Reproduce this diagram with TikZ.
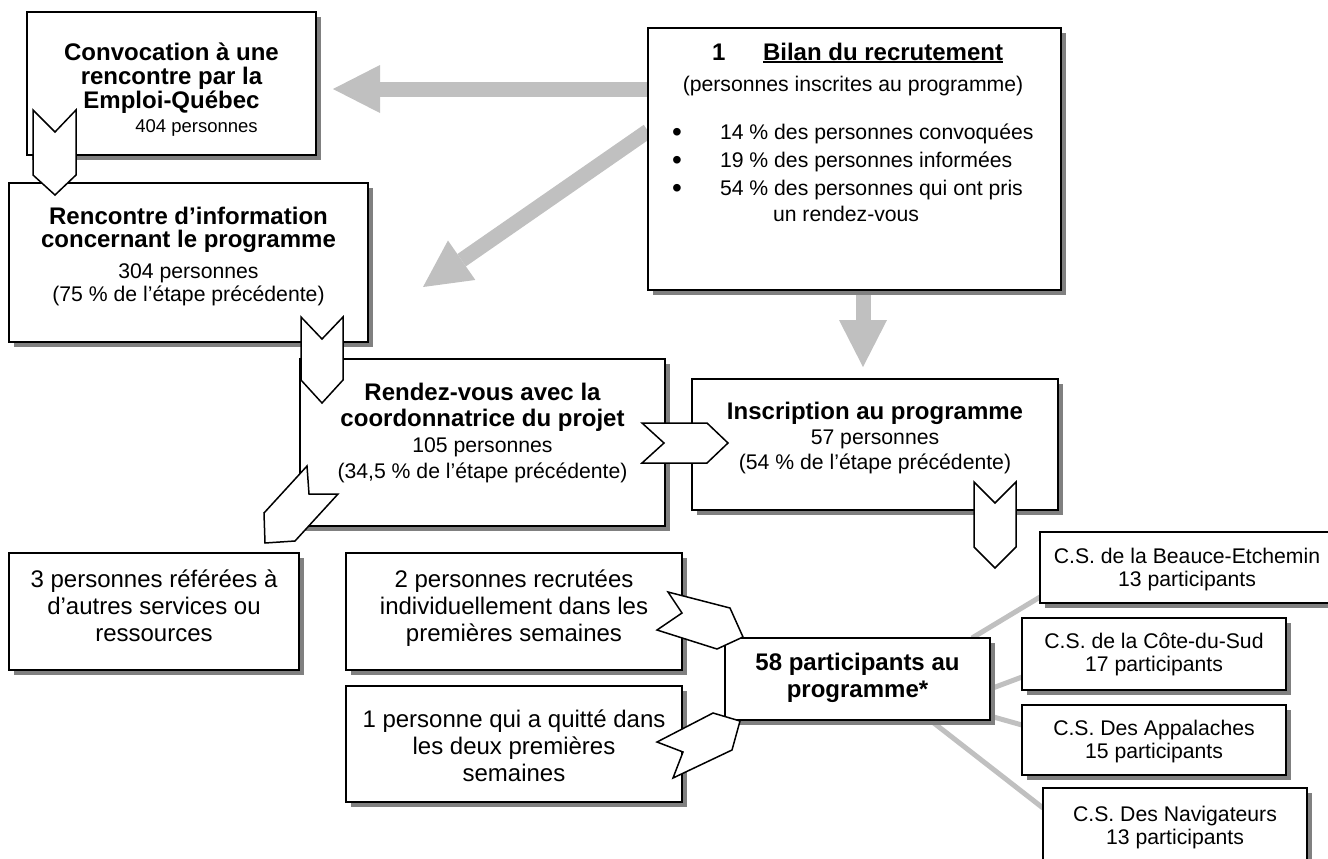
\documentclass[tikz,border=0pt]{standalone}
\usepackage{fontspec}
\setmainfont{Liberation Sans}
\usetikzlibrary{arrows.meta,shadows,calc}
\pgfdeclarelayer{back}
\pgfsetlayers{back,main}
\definecolor{arrowgray}{HTML}{C0C0C0}
\definecolor{shadowgray}{HTML}{808080}
\newcommand\clines[2]{\vtop{\baselineskip=#1\lineskiplimit=-\maxdimen\halign{\hfil##\hfil\cr#2\crcr}}}
\newcommand\myul[1]{\setbox0\hbox{#1}\rlap{\rule[-1.5pt]{\wd0}{0.9pt}}\box0}
\newcommand\zB{\fontsize{12pt}{14pt}\selectfont\bfseries}
\newcommand\zR{\fontsize{10.6pt}{12pt}\selectfont}
\newcommand\zL{\fontsize{12pt}{14pt}\selectfont}
\newcommand\zS{\fontsize{9.25pt}{12pt}\selectfont}
\newcommand\bigbul{\makebox[0pt]{\raisebox{-1.2pt}{\fontsize{14pt}{14pt}\selectfont•}}}
\tikzset{
  box/.style={draw=black, line width=0.9pt, fill=white, rectangle,
    drop shadow={shadow xshift=2.5pt, shadow yshift=-2.5pt, fill=shadowgray, opacity=1}},
  txt/.style={anchor=base},
  garrow/.style={draw=arrowgray, line width=7.5pt, -{Triangle[length=23.5pt, width=24pt, line width=0pt]}},
  csline/.style={draw=arrowgray, line width=2.5pt},
  chev/.style={draw=black, fill=white, line width=0.75pt, line join=miter}
}
\begin{document}
\begin{tikzpicture}[x=0.5pt, y=-0.5pt, every node/.style={inner sep=0pt, outer sep=0pt}]
\useasboundingbox (0,0) rectangle (1328,858);
\begin{pgfonlayer}{back}
\fill[white] (0,0) rectangle (1328,858);
\end{pgfonlayer}

% boxes
\path
  (171.5,83.5)  node[box, minimum width=144.5pt, minimum height=71.5pt] (conv) {}
  (854.5,159)   node[box, minimum width=206.5pt, minimum height=131pt] (bilan) {}
  (188.5,262.5) node[box, minimum width=179.5pt, minimum height=79.5pt] (renc) {}
  (482.5,442.5) node[box, minimum width=182.5pt, minimum height=83.5pt] (rdv) {}
  (875,444.5)   node[box, minimum width=183pt, minimum height=65.5pt] (insc) {}
  (857.5,679)   node[box, minimum width=132.5pt, minimum height=41pt] (b58) {}
  (1187,567.5)  node[box, minimum width=147pt, minimum height=35.5pt] (csA) {}
  (1154,654)    node[box, minimum width=132pt, minimum height=36pt] (csB) {}
  (1154,740)    node[box, minimum width=132pt, minimum height=35pt] (csC) {}
  (1175,827)    node[box, minimum width=132pt, minimum height=39pt] (csD) {}
  (154,611.5)   node[box, minimum width=145pt, minimum height=58.5pt] (ref) {}
  (514,611.5)   node[box, minimum width=168pt, minimum height=58.5pt] (rec) {}
  (514,744)     node[box, minimum width=168pt, minimum height=58pt] (quit) {};

% gray block arrows and lines, behind the boxes
\begin{pgfonlayer}{back}
\draw[garrow] ($(bilan.north west)+(0,61)$) -- ($(conv.east)+(17,5.5)$);
\draw[garrow] ($(bilan.north west)+(0,103)$) -- ($(renc.north east)+(55,104)$);
\draw[garrow] ($(bilan.south)+(8.5,0)$) -- ($(insc.north)+(-12,-12)$);
\draw[csline] ($(b58.north east)+(-18,0)$) -- ($(csA.west)+(0,29.5)$);
\draw[csline] ($(b58.east)+(0,10)$) -- ($(csB.west)+(0,23)$);
\draw[csline] ($(b58.east)+(0,37)$) -- ($(csC.west)+(0,-15)$);
\draw[csline] ($(b58.south east)+(-60,0)$) -- ($(csD.west)+(0,-19)$);
\end{pgfonlayer}

% chevrons
\draw[chev] (33,110) -- (55,132) -- (76,110) -- (76,175) -- (55,195) -- (33,175) -- cycle;
\draw[chev] (301,317) -- (322,339) -- (343,317) -- (343,380) -- (322,403) -- (301,380) -- cycle;
\draw[chev] (642,423) -- (664,443) -- (642,463) -- (707,463) -- (728,443) -- (707,423) -- cycle;
\draw[chev] (974,482) -- (995,503) -- (1016,482) -- (1016,547) -- (995,568) -- (974,547) -- cycle;
\draw[chev] (307,466) -- (309,494) -- (338,494) -- (295,541) -- (265,543) -- (264,513) -- cycle;
\draw[chev] (668,592) -- (682,613) -- (657,630) -- (717,649) -- (743,637) -- (730,608) -- cycle;
\draw[chev] (657,742) -- (683,752) -- (673,778) -- (732,750) -- (740,721) -- (713,713) -- cycle;

% texts
\node[txt] (convT) at (171.5,60) {\clines{12pt}{\zB Convocation à une\cr \zB rencontre par la\cr \zB Emploi-Québec\cr \zS\hskip25pt 404 personnes\cr}};
\node[txt] (rencT) at (188.5,224) {\clines{11.5pt}{\zB Rencontre d’information\cr \zB concernant le programme\cr\noalign{\vskip4pt}\zR 304 personnes\cr \zR (75 \% de l’étape précédente)\cr}};
\node[txt] (rdvT) at (482.5,400) {\clines{13pt}{\zB Rendez-vous avec la\cr \zB coordonnatrice du projet\cr \zR 105 personnes\cr \zR (34,5 \% de l’étape précédente)\cr}};
\node[txt] (inscT) at (875,419) {\clines{12.5pt}{\zB Inscription au programme\cr \zR 57 personnes\cr \zR (54 \% de l’étape précédente)\cr}};
\node[txt] (b58T) at (857.5,670) {\clines{13.5pt}{\zB 58 participants au\cr \zB programme*\cr}};
\node[txt] (refT) at (154,587) {\clines{13.5pt}{\zL 3 personnes référées à\cr \zL d’autres services ou\cr \zL ressources\cr}};
\node[txt] (recT) at (514,587) {\clines{13.5pt}{\zL 2 personnes recrutées\cr \zL individuellement dans les\cr \zL premières semaines\cr}};
\node[txt] (quitT) at (514,727) {\clines{13.5pt}{\zL 1 personne qui a quitté dans\cr \zL les deux premières\cr \zL semaines\cr}};
\node[txt] (csAT) at (1187,563) {\clines{11.75pt}{\zR C.S. de la Beauce-Etchemin\cr \zR 13 participants\cr}};
\node[txt] (csBT) at (1154,648) {\clines{11.75pt}{\zR C.S. de la Côte-du-Sud\cr \zR 17 participants\cr}};
\node[txt] (csCT) at (1154,735) {\clines{11.75pt}{\zR C.S. Des Appalaches\cr \zR 15 participants\cr}};
\node[txt] (csDT) at (1175,821) {\clines{11.75pt}{\zR C.S. Des Navigateurs\cr \zR 13 participants\cr}};
\node[anchor=base west] (bilT) at (712,60) {\zB 1\hskip18.85pt\myul{Bilan du recrutement}};
\node[txt] (bilS) at (853,91) {\zR (personnes inscrites au programme)};
\node[anchor=base west] (bilL) at (677,139) {\vtop{\zR\baselineskip=14pt\lineskiplimit=-\maxdimen
  \hbox{\bigbul\hskip21.5pt 14 \% des personnes convoquées}
  \hbox{\bigbul\hskip21.5pt 19 \% des personnes informées}
  \hbox{\bigbul\hskip21.5pt 54 \% des personnes qui ont pris}
  \vskip-1pt
  \hbox{\hskip48pt un rendez-vous}}};
\end{tikzpicture}
\end{document}
